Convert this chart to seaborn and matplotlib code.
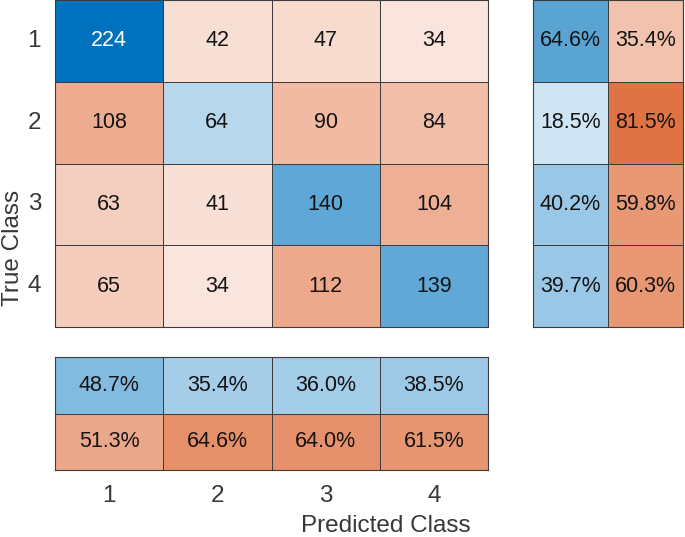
import numpy as np
import pandas as pd
import matplotlib
matplotlib.use('Agg')
import matplotlib.pyplot as plt
from matplotlib.colors import LinearSegmentedColormap
import seaborn as sns

# confusion matrix values
classes = ['1', '2', '3', '4']
counts = [[224, 42, 47, 34],
          [108, 64, 90, 84],
          [63, 41, 140, 104],
          [65, 34, 112, 139]]
# row summary (true class): correct / incorrect %
row_correct = [64.6, 18.5, 40.2, 39.7]
row_wrong = [35.4, 81.5, 59.8, 60.3]
# column summary (predicted class): correct / incorrect %
col_correct = [48.7, 35.4, 36.0, 38.5]
col_wrong = [51.3, 64.6, 64.0, 61.5]

sns.set_theme(style='white')
plt.rcParams['font.family'] = ['Liberation Sans', 'DejaVu Sans']

blue = LinearSegmentedColormap.from_list('mblue', ['white', '#0072BD'])
orange = LinearSegmentedColormap.from_list('morange', ['white', '#D95319'])
edge = '#3c3c3c'
txt = '#141414'
fs = 15.5      # cell text
lfs = 17.5     # ticks / labels

fig = plt.figure(figsize=(6.85, 5.37), dpi=100)
ax_main = fig.add_axes([55/685, 210/537, 433/685, 327/537])
ax_row = fig.add_axes([533/685, 210/537, 150/685, 327/537])
ax_col = fig.add_axes([55/685, 67/537, 433/685, 113/537])


def draw(ax, df, diag_mask, vmax, labels):
    # blue cells where diag_mask True, orange elsewhere
    sns.heatmap(df, mask=~diag_mask, cmap=blue, vmin=0, vmax=vmax, cbar=False,
                linewidths=0.7, linecolor=edge, ax=ax)
    sns.heatmap(df, mask=diag_mask, cmap=orange, vmin=0, vmax=vmax, cbar=False,
                linewidths=0.7, linecolor=edge, ax=ax)
    vals = df.values
    for i in range(vals.shape[0]):
        for j in range(vals.shape[1]):
            c = 'white' if diag_mask[i, j] and vals[i, j] / vmax > 0.8 else txt
            ax.text(j + 0.5, i + 0.5, labels[i][j], ha='center', va='center',
                    fontsize=fs, color=c)
    for s in ax.spines.values():
        s.set_visible(True)
        s.set_color(edge)
        s.set_linewidth(0.8)
    ax.set_xlabel('')
    ax.set_ylabel('')


# main matrix
cm = pd.DataFrame(counts, index=classes, columns=classes)
draw(ax_main, cm, np.eye(4, dtype=bool), cm.values.max(),
     [[str(v) for v in r] for r in counts])
ax_main.set_xticks([])
ax_main.set_yticks(np.arange(4) + 0.5)
ax_main.set_yticklabels(classes, rotation=0, fontsize=lfs, color='#383838')
ax_main.tick_params(axis='y', length=0, pad=10)

# row summary
rs = pd.DataFrame({'c': row_correct, 'w': row_wrong}, index=classes)
rmask = np.zeros((4, 2), dtype=bool)
rmask[:, 0] = True
draw(ax_row, rs, rmask, 100,
     [['%.1f%%' % a, '%.1f%%' % b] for a, b in zip(row_correct, row_wrong)])
ax_row.set_xticks([])
ax_row.set_yticks([])

# column summary
cs = pd.DataFrame([col_correct, col_wrong], index=['c', 'w'], columns=classes)
cmask = np.zeros((2, 4), dtype=bool)
cmask[0, :] = True
draw(ax_col, cs, cmask, 100,
     [['%.1f%%' % v for v in col_correct], ['%.1f%%' % v for v in col_wrong]])
ax_col.set_yticks([])
ax_col.set_xticks(np.arange(4) + 0.5)
ax_col.set_xticklabels(classes, fontsize=lfs, color='#383838')
ax_col.tick_params(axis='x', length=0, pad=11)

fig.text(386/685, 1 - 526/537, 'Predicted Class', ha='center', va='center',
         fontsize=lfs, color='#383838')
fig.text(13/685, 1 - 248/537, 'True Class', ha='center', va='center',
         rotation=90, fontsize=lfs, color='#383838')

fig.savefig('out.png', dpi=100)
